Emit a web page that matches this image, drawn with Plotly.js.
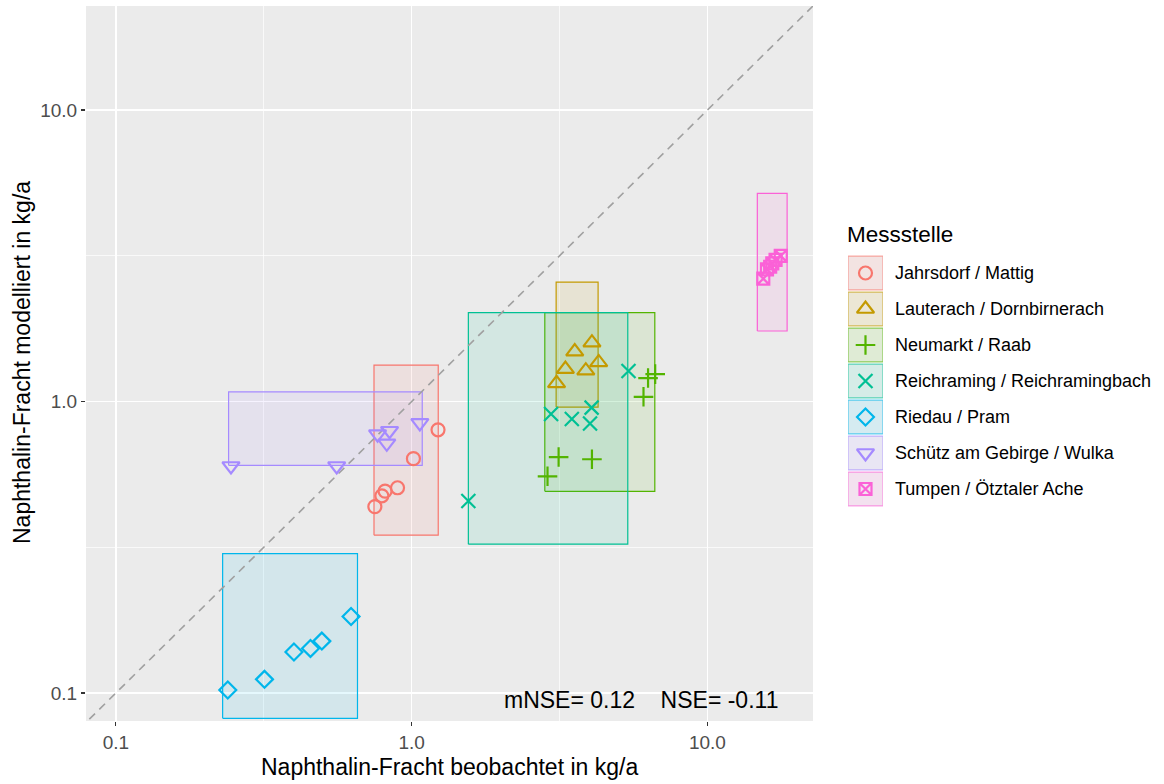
<!DOCTYPE html>
<html>
<head>
<meta charset="utf-8">
<script src="https://cdn.plot.ly/plotly-3.0.1.min.js"></script>
<style>html,body{margin:0;padding:0;background:#fff;}#chart{width:1164px;height:784px;}</style>
</head>
<body>
<div id="chart"></div>
<script>
const stations = ["Jahrsdorf / Mattig", "Lauterach / Dornbirnerach", "Neumarkt / Raab",
  "Reichraming / Reichramingbach", "Riedau / Pram", "Schütz am Gebirge / Wulka", "Tumpen / Ötztaler Ache"];
const colors = ["#F8766D", "#C49A00", "#53B400", "#00C094", "#00B6EB", "#A58AFF", "#FB61D7"];
const symbols = ["circle-open", "triangle-up-open", "cross-thin-open", "x-thin-open", "diamond-open", "triangle-down-open", "square-x-open"];
const symbolSizes = [13, 15, 14, 14, 13, 15, 12];

// observed (x) and modelled (y) loads, kg/a
const observed = [
  [1.228, 1.014, 0.896, 0.813, 0.793, 0.751],
  [4.07, 3.56, 3.31, 4.29, 3.88, 3.09],
  [6.30, 6.66, 6.08, 3.14, 4.07, 2.88],
  [5.41, 2.96, 3.48, 4.06, 4.01, 1.555],
  [0.239, 0.318, 0.400, 0.455, 0.497, 0.624],
  [0.245, 0.558, 0.767, 0.842, 0.824, 1.066],
  [15.45, 15.9, 16.57, 17.0, 17.7, 16.3]
];
const modelled = [
  [0.800, 0.637, 0.506, 0.493, 0.475, 0.436],
  [1.592, 1.483, 1.292, 1.362, 1.276, 1.154],
  [1.204, 1.242, 1.038, 0.645, 0.634, 0.554],
  [1.273, 0.906, 0.871, 0.953, 0.841, 0.456],
  [0.1024, 0.1114, 0.1383, 0.1422, 0.1507, 0.183],
  [0.601, 0.601, 0.773, 0.794, 0.719, 0.845],
  [2.64, 2.84, 2.98, 3.06, 3.16, 2.90]
];
// range boxes
const obsMin = [0.746, 3.08, 2.82, 1.555, 0.2296, 0.2405, 14.75];
const obsMax = [1.23, 4.27, 6.64, 5.38, 0.656, 1.086, 18.6];
const modMin = [0.348, 0.957, 0.492, 0.324, 0.0819, 0.604, 1.746];
const modMax = [1.334, 2.57, 2.02, 2.02, 0.301, 1.080, 5.18];

const diagonal = [0.01, 100];
const tickVals = [0.1, 1, 10];
const tickText = ["0.1", "1.0", "10.0"];
const minorVals = [0.316228, 3.16228];
const statText = "mNSE= 0.12    NSE= -0.11";

function rgba(hex, a) {
  const r = parseInt(hex.slice(1, 3), 16), g = parseInt(hex.slice(3, 5), 16), b = parseInt(hex.slice(5, 7), 16);
  return `rgba(${r},${g},${b},${a})`;
}
function blend(hex, a, base) {
  const c = [1, 3, 5].map(k => parseInt(hex.slice(k, k + 2), 16));
  const m = c.map((v, i) => Math.round(base[i] * (1 - a) + v * a));
  return `rgb(${m[0]},${m[1]},${m[2]})`;
}

const FONT = "Liberation Sans, Arial, sans-serif";
const traces = [];

// boxes
stations.forEach((s, i) => {
  traces.push({
    type: "scatter", mode: "lines", xaxis: "x", yaxis: "y",
    x: [obsMin[i], obsMax[i], obsMax[i], obsMin[i], obsMin[i]],
    y: [modMin[i], modMin[i], modMax[i], modMax[i], modMin[i]],
    fill: "toself", fillcolor: rgba(colors[i], 0.1),
    line: { color: colors[i], width: 1.2 },
    showlegend: false, hoverinfo: "skip"
  });
});

// 1:1 line
traces.push({
  type: "scatter", mode: "lines", x: diagonal, y: diagonal,
  line: { color: "#A0A0A0", width: 1.6, dash: "8px,6px" },
  showlegend: false, hoverinfo: "skip"
});

// points
stations.forEach((s, i) => {
  traces.push({
    type: "scatter", mode: "markers", name: s,
    x: observed[i], y: modelled[i],
    marker: { symbol: symbols[i], size: symbolSizes[i], color: colors[i], line: { color: colors[i], width: 2.2 } },
    showlegend: false
  });
});

// manual legend keys on an auxiliary subplot
stations.forEach((s, i) => {
  traces.push({
    type: "scatter", mode: "lines", xaxis: "x2", yaxis: "y2",
    x: [0, 1, 1, 0, 0], y: [i - 0.47, i - 0.47, i + 0.47, i + 0.47, i - 0.47],
    fill: "toself", fillcolor: blend(colors[i], 0.12, [242, 242, 242]),
    line: { color: rgba(colors[i], 0.6), width: 1.2 },
    showlegend: false, hoverinfo: "skip"
  });
});
stations.forEach((s, i) => {
  traces.push({
    type: "scatter", mode: "markers", xaxis: "x2", yaxis: "y2",
    x: [0.5], y: [i],
    marker: { symbol: symbols[i], size: symbolSizes[i], color: colors[i], line: { color: colors[i], width: 2.2 } },
    showlegend: false, hoverinfo: "skip"
  });
});

const W = 1164, H = 784, ML = 86, MR = 0, MT = 6, MB = 63;
const PW = W - ML - MR, PH = H - MT - MB;
const px = v => (v - ML) / PW;
const py = v => (H - MB - v) / PH;

const annotations = [
  { text: statText, xref: "paper", yref: "paper", x: px(780), y: py(700), xanchor: "right", yanchor: "middle",
    showarrow: false, font: { family: FONT, size: 23, color: "#000" } },
  { text: "Naphthalin-Fracht beobachtet in kg/a", xref: "paper", yref: "paper", x: px(449.5), y: py(767),
    xanchor: "center", yanchor: "middle", showarrow: false, font: { family: FONT, size: 23, color: "#000" } },
  { text: "Naphthalin-Fracht modelliert in kg/a", xref: "paper", yref: "paper", x: px(22), y: py(363),
    xanchor: "center", yanchor: "middle", textangle: -90, showarrow: false, font: { family: FONT, size: 23, color: "#000" } },
  { text: "Messstelle", xref: "paper", yref: "paper", x: px(845), y: py(234), xanchor: "left", yanchor: "middle",
    showarrow: false, font: { family: FONT, size: 22.5, color: "#000" } }
];
stations.forEach((s, i) => {
  annotations.push({ text: s, xref: "paper", yref: "y2", x: px(893), y: i, xanchor: "left", yanchor: "middle",
    showarrow: false, font: { family: FONT, size: 18, color: "#000" } });
});

const axisCommon = {
  type: "log", tickmode: "array", tickvals: tickVals, ticktext: tickText,
  showgrid: true, gridcolor: "#FFFFFF", gridwidth: 1.4, zeroline: false, showline: false,
  ticks: "outside", ticklen: 4, tickwidth: 1.2, tickcolor: "#333333",
  tickfont: { family: FONT, size: 19, color: "#4D4D4D" },
  minor: { tickmode: "array", tickvals: minorVals, showgrid: true, gridcolor: "#FFFFFF", gridwidth: 0.7, ticks: "" },
  fixedrange: true
};

const layout = {
  width: W, height: H, autosize: false,
  margin: { l: ML, r: MR, t: MT, b: MB, pad: 0 },
  paper_bgcolor: "#FFFFFF", plot_bgcolor: "#FFFFFF",
  font: { family: FONT },
  showlegend: false,
  xaxis: Object.assign({}, axisCommon, { domain: [0, 727 / PW], range: [-1.101, 1.357], anchor: "y" }),
  yaxis: Object.assign({}, axisCommon, { domain: [0, 1], range: [-1.096, 1.357], anchor: "x" }),
  xaxis2: { domain: [px(848), px(883)], range: [0, 1], visible: false, anchor: "y2", fixedrange: true },
  yaxis2: { domain: [py(255 + 36 * 7), py(255)], range: [6.5, -0.5], visible: false, anchor: "x2", fixedrange: true },
  shapes: [
    { type: "rect", xref: "x domain", yref: "y domain", x0: 0, x1: 1, y0: 0, y1: 1,
      fillcolor: "#EBEBEB", line: { width: 0 }, layer: "below" }
  ],
  annotations: annotations
};

Plotly.newPlot("chart", traces, layout, { displayModeBar: false, staticPlot: true });
</script>
</body>
</html>
